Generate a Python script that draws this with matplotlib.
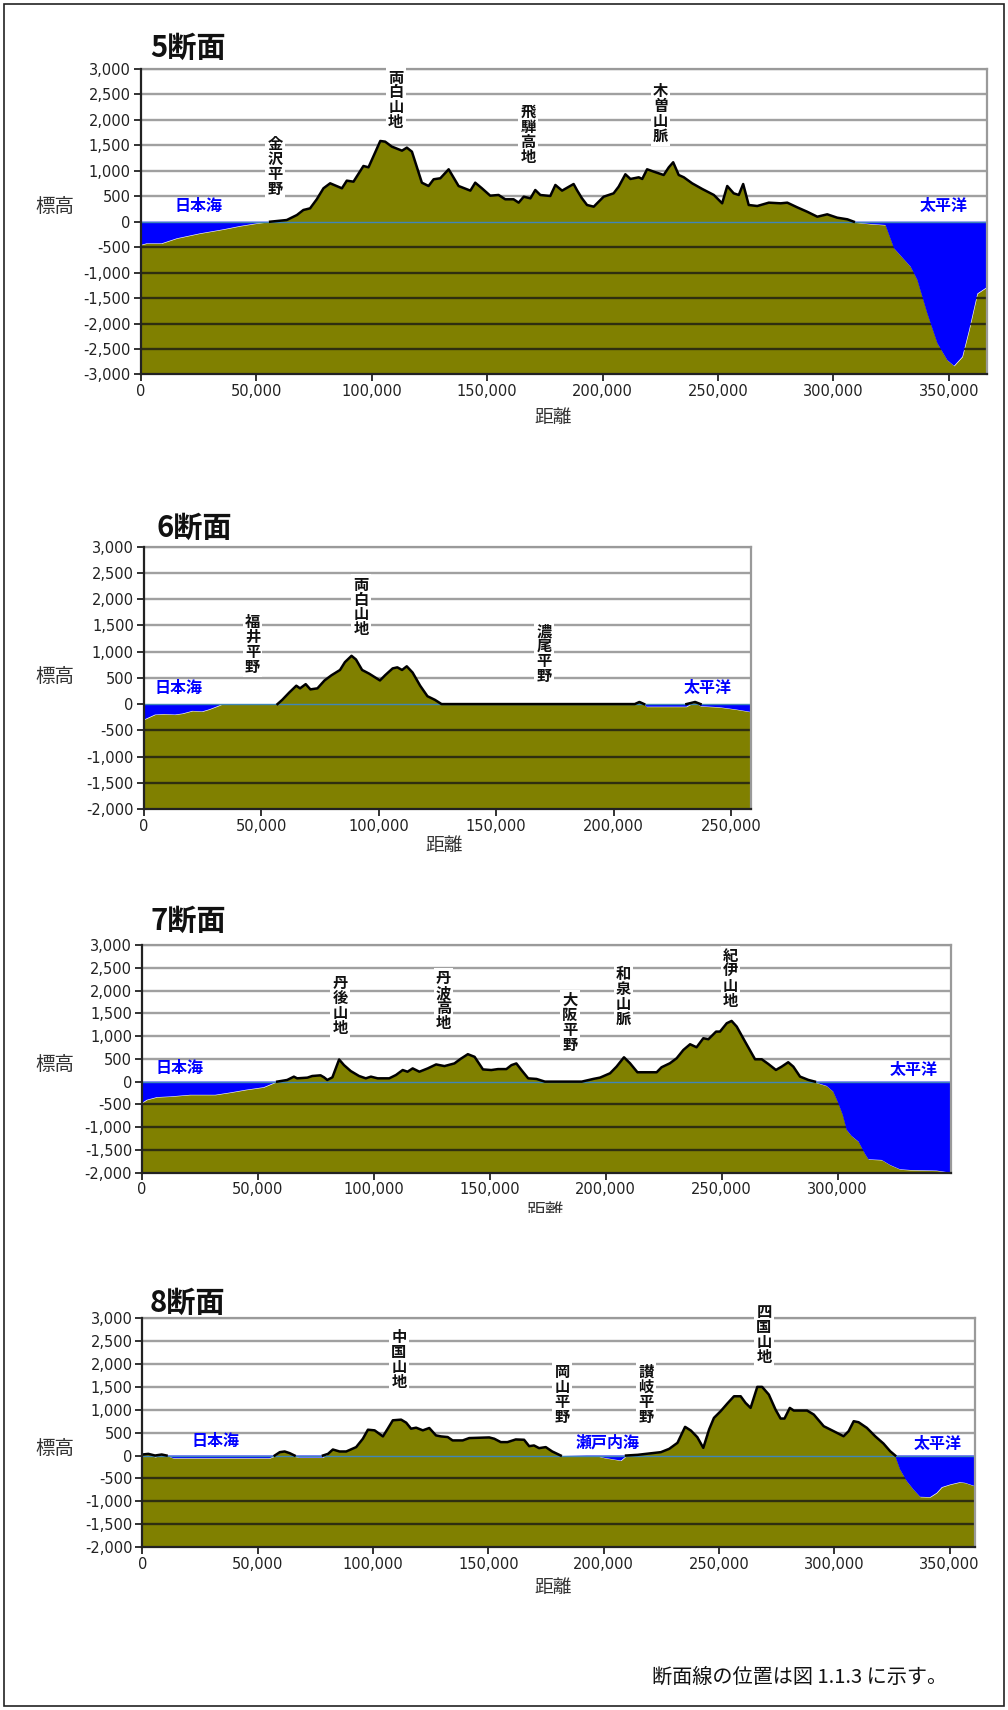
import numpy as np
import matplotlib
matplotlib.use("Agg")
import matplotlib.pyplot as plt
from matplotlib.ticker import FuncFormatter, MultipleLocator
from matplotlib.patches import Rectangle

plt.rcParams['font.family'] = ['Noto Sans CJK JP', 'DejaVu Sans']

# ---- section 5 ----
p5_dist = [0, 2700, 9200, 15700, 25800, 35900, 43100, 50300, 56100, 63300,
           67700, 70500, 73400, 76300, 79200, 82100, 87200, 89300, 92200, 96500,
           98700, 103800, 105900, 108800, 113200, 115300, 117500, 121800, 124700, 126900,
           129800, 133400, 137700, 142800, 144900, 147800, 151400, 155000, 157900, 161500,
           163700, 165900, 168800, 170900, 173100, 177400, 179600, 182500, 187500, 189000,
           191100, 193300, 196200, 200500, 204800, 207000, 209900, 212100, 215700, 217200,
           219300, 222200, 226500, 228700, 230600, 233000, 235200, 238800, 243200, 248200,
           251800, 254000, 256800, 259000, 260900, 263300, 267000, 272000, 277100, 280000,
           284300, 288600, 293000, 297300, 301600, 306000, 308800, 316000, 322500, 326200,
           333400, 336300, 340600, 345000, 349300, 352200, 355800, 358700, 362300, 366600]
p5_elev = [-458, -425, -425, -327, -229, -150, -85, -33, 0, 33,
           131, 230, 262, 440, 656, 754, 656, 806, 786, 1094,
           1068, 1585, 1572, 1474, 1395, 1454, 1375, 766, 701, 833,
           853, 1029, 701, 610, 766, 656, 511, 525, 440, 440,
           374, 491, 459, 622, 524, 505, 721, 610, 740, 616,
           460, 328, 295, 491, 557, 688, 931, 839, 872, 839,
           1029, 983, 917, 1068, 1167, 917, 872, 754, 642, 525,
           361, 701, 557, 525, 740, 328, 308, 374, 361, 374,
           282, 196, 98, 145, 79, 47, -12, -45, -65, -523,
           -885, -1145, -1800, -2390, -2720, -2830, -2650, -2130, -1410, -1280]
p5_places = ['金沢平野', '両白山地', '飛騨高地', '木曽山脈']
p5_place_x = [58300, 110500, 167800, 225100]
p5_place_y = [1080, 2390, 1720, 2130]
p5_seas = ['日本海', '太平洋']
p5_sea_x = [25300, 347800]
p5_sea_y = [309, 309]

# ---- section 6 ----
p6_dist = [0, 4900, 9000, 13400, 16600, 20800, 25000, 28000, 31500, 33600,
           57000, 59000, 62000, 65000, 66600, 69000, 71000, 74000, 77000, 80000,
           83600, 85700, 88500, 90400, 93000, 96000, 100600, 102800, 106000, 108000,
           110000, 112000, 114500, 117700, 120800, 124000, 126800,
           209000, 211000, 213000, 214000, 231000, 234700, 237000, 245000, 251700, 258500]
p6_elev = [-300, -200, -190, -200, -180, -130, -140, -100, -40, 0,
           0, 80, 220, 350, 300, 380, 280, 300, 450, 550,
           650, 800, 920, 850, 650, 580, 450, 550, 680, 700,
           650, 720, 600, 350, 150, 80, 0,
           0, 40, 0, -50, -50, 40, -40, -60, -100, -150]
p6_places = ['福井平野', '両白山地', '濃尾平野']
p6_place_x = [46400, 92550, 170400]
p6_place_y = [1140, 1850, 960]
p6_seas = ['日本海', '太平洋']
p6_sea_x = [14900, 240000]
p6_sea_y = [312, 312]

# ---- section 7 ----
p7_dist = [0, 2200, 6500, 12300, 20900, 31700, 38200, 44700, 52600, 58400,
           62700, 65600, 67000, 71400, 73500, 77100, 78600, 80000, 82200, 85100,
           87200, 90100, 93700, 96600, 98800, 101700, 106700, 109600, 112500, 114600,
           116800, 119700, 123300, 126900, 130500, 134800, 137700, 140600, 143500, 147100,
           150700, 153600, 157200, 159400, 161500, 163700, 166600, 170200, 173800, 189700,
           194700, 197600, 201900, 204700, 207900, 210500, 213700, 222000, 224100, 227700,
           230600, 233500, 236400, 239200, 242100, 244300, 247600, 249300, 252200, 254300,
           256500, 260100, 264400, 267300, 270100, 273400, 275900, 278700, 280900, 283800,
           287400, 290200, 295300, 298100, 300300, 302200, 303900, 306000, 309000, 311800,
           313300, 319000, 322600, 326900, 331200, 342700, 348900]
p7_elev = [-471, -399, -341, -326, -290, -290, -239, -181, -123, 0,
           36, 109, 72, 87, 123, 138, 94, 36, 94, 486,
           362, 232, 123, 72, 109, 72, 72, 145, 254, 217,
           290, 217, 290, 377, 341, 399, 507, 602, 544, 268,
           254, 275, 275, 362, 399, 254, 72, 58, 0, 0,
           59, 88, 183, 329, 534, 403, 205, 205, 315, 403,
           512, 695, 820, 754, 952, 930, 1098, 1098, 1281, 1332,
           1208, 878, 490, 490, 388, 256, 329, 425, 329, 110,
           37, -15, -95, -220, -476, -732, -1061, -1193, -1318, -1588,
           -1706, -1720, -1830, -1925, -1940, -1954, -2000]
p7_places = ['丹後山地', '丹波高地', '大阪平野', '和泉山脈', '紀伊山地']
p7_place_x = [85500, 130000, 184600, 207600, 253900]
p7_place_y = [1670, 1775, 1300, 1860, 2265]
p7_seas = ['日本海', '太平洋']
p7_sea_x = [16100, 332600]
p7_sea_y = [290, 256]

# ---- section 8 ----
p8_dist = [0, 2600, 5500, 8400, 10500, 13400, 23500, 37900, 55200, 57400,
           59600, 61700, 63900, 66000, 68200, 78300, 80500, 82600, 85500, 88400,
           92700, 95600, 97800, 100700, 104300, 106400, 108600, 112200, 114400, 116500,
           118700, 121600, 124400, 127300, 129500, 132400, 134500, 138900, 141700, 150400,
           152600, 155400, 158300, 161900, 165500, 167700, 169800, 172000, 174900, 177700,
           181400, 197400, 200300, 204600, 207500, 209700, 214700, 219700, 224800, 228400,
           232000, 235300, 237800, 240600, 243200, 245700, 247800, 250700, 253600, 256500,
           259400, 261500, 263700, 266600, 268700, 271600, 274500, 276700, 278400, 280700,
           282400, 288200, 291100, 295400, 299700, 304000, 306200, 308400, 310500, 314100,
           317700, 321300, 324200, 326400, 328500, 331400, 334300, 337200, 341500, 344400,
           346600, 350200, 354500, 356700, 361000]
p8_elev = [22, 36, -36, 22, 0, -58, -58, -58, -58, -15,
           73, 88, 51, -22, -44, -44, 36, 131, 88, 88,
           183, 365, 562, 548, 416, 584, 767, 781, 715, 584,
           606, 548, 599, 438, 416, 402, 329, 329, 380, 394,
           365, 292, 292, 350, 343, 204, 219, 161, 183, 88,
           0, -15, -51, -87, -109, -15, 15, 44, 73, 145,
           276, 624, 544, 399, 167, 566, 819, 964, 1131, 1290,
           1290, 1146, 1037, 1494, 1494, 1327, 1000, 805, 805, 1037,
           979, 979, 892, 638, 530, 420, 530, 747, 725, 602,
           420, 261, 94, -15, -305, -558, -740, -899, -906, -812,
           -689, -631, -580, -595, -667]
p8_places = ['中国山地', '岡山平野', '讃岐平野', '四国山地']
p8_place_x = [111200, 182000, 218300, 269500]
p8_place_y = [2100, 1330, 1330, 2630]
p8_seas = ['日本海', '瀬戸内海', '太平洋']
p8_sea_x = [31900, 201700, 345000]
p8_sea_y = [307, 290, 261]

section_titles = ['5断面', '6断面', '7断面', '8断面']
x_limits = [366600, 258500, 348900, 361000]
y_bottoms = [-3000, -2000, -2000, -2000]
y_top = 3000

LAND = '#808000'
SEA = '#0000ff'
W, H = 1008, 1710


def FigX(px):
    return px / W


def FigY(py):
    return 1 - py / H


def DrawSection(ax, dist, elev, xmax, ymin, places, px, py, seas, sx, sy):
    """
    Draws one cross section: land in olive, sea in blue, outline of the
    ground above sea level in black, and the place names.
    """
    dist = np.asarray(dist, float)
    elev = np.asarray(elev, float)

    ax.set_xlim(0, xmax)
    ax.set_ylim(ymin, y_top)

    # gridlines: grey above sea level, dark (over the land) below
    for level in np.arange(ymin + 500, y_top + 1, 500):
        if level > 0:
            ax.axhline(level, color='#a0a0a0', lw=1.7, zorder=0.5)
        elif level < 0:
            ax.axhline(level, color='#2e2e10', lw=1.7, zorder=1.5)

    ax.fill_between(dist, ymin, elev, color=LAND, lw=0, zorder=1)
    ax.fill_between(dist, elev, 0, where=elev < 0, interpolate=True,
                    color=SEA, lw=0, zorder=2)
    ax.axhline(0, color='#3f86b8', lw=1.0, zorder=2.5)

    above = np.maximum(elev, 0)
    pos = above > 0
    keep = pos | np.roll(pos, 1) | np.roll(pos, -1)
    ax.plot(dist, np.where(keep, above, np.nan), color='black', lw=1.8,
            zorder=3, solid_joinstyle='round')

    for name, x, y in zip(places, px, py):
        ax.text(x, y, '\n'.join(name), ha='center', va='center',
                fontsize=11, fontweight='bold', color='#111111',
                linespacing=0.92, zorder=5, clip_on=False,
                bbox=dict(facecolor='white', edgecolor='none', pad=1.5))
    for name, x, y in zip(seas, sx, sy):
        ax.text(x, y, name, ha='center', va='center', fontsize=11.5,
                fontweight='bold', color=SEA, zorder=5)

    ax.xaxis.set_major_locator(MultipleLocator(50000))
    ax.yaxis.set_major_locator(MultipleLocator(500))
    fmt = FuncFormatter(lambda v, _: f"{v:,.0f}")
    ax.xaxis.set_major_formatter(fmt)
    ax.yaxis.set_major_formatter(fmt)
    ax.tick_params(axis='both', direction='out', length=5, width=1.3,
                   color='#222222', labelsize=10.5, labelcolor='#222222', pad=2)
    for lab in ax.get_xticklabels() + ax.get_yticklabels():
        lab.set_family('DejaVu Sans')

    for side in ['left', 'bottom']:
        ax.spines[side].set_color('#222222')
        ax.spines[side].set_linewidth(1.6)
        ax.spines[side].set_zorder(4)
    for side in ['top', 'right']:
        ax.spines[side].set_color('#9a9a9a')
        ax.spines[side].set_linewidth(1.6)


fig = plt.figure(figsize=(W / 100, H / 100), dpi=100)

axes_rects = [
    [0.1394, 0.7810, 0.8401, 0.1787],
    [0.1424, 0.5269, 0.6027, 0.1534],
    [0.1406, 0.3142, 0.8029, 0.1332],
    [0.1412, 0.0951, 0.8261, 0.1343],
]
sections = [
    (p5_dist, p5_elev, p5_places, p5_place_x, p5_place_y, p5_seas, p5_sea_x, p5_sea_y),
    (p6_dist, p6_elev, p6_places, p6_place_x, p6_place_y, p6_seas, p6_sea_x, p6_sea_y),
    (p7_dist, p7_elev, p7_places, p7_place_x, p7_place_y, p7_seas, p7_sea_x, p7_sea_y),
    (p8_dist, p8_elev, p8_places, p8_place_x, p8_place_y, p8_seas, p8_sea_x, p8_sea_y),
]
title_pos = [(150, 48), (156, 528), (150, 921), (150, 1303)]
ylabel_pos = [207, 676, 1064, 1448]
xlabel_pos = [(553, 418), (444, 845), (545, 1212), (553, 1587)]

for i, rect in enumerate(axes_rects):
    ax = fig.add_axes(rect)
    d, e, pl, plx, ply, se, sex, sey = sections[i]
    DrawSection(ax, d, e, x_limits[i], y_bottoms[i], pl, plx, ply, se, sex, sey)

    tx, ty = title_pos[i]
    fig.text(FigX(tx), FigY(ty), section_titles[i], ha='left', va='center',
             fontsize=21, fontweight='bold', color='#111111')
    fig.text(FigX(55), FigY(ylabel_pos[i]), '標高', ha='center', va='center',
             fontsize=14, color='#333333')
    lx, ly = xlabel_pos[i]
    fig.text(FigX(lx), FigY(ly), '距離', ha='center', va='center',
             fontsize=13.5, color='#333333')

# the 7th section's axis title is half hidden in the original
fig.patches.append(Rectangle((FigX(480), FigY(1240)), 140 / W, 27 / H,
                             transform=fig.transFigure, facecolor='white',
                             edgecolor='none', zorder=10))

fig.text(FigX(947), FigY(1677), '断面線の位置は図 1.1.3 に示す。', ha='right',
         va='center', fontsize=14.5, color='#111111')

# outer frame
fig.patches.append(Rectangle((FigX(4), FigY(1706)), 1000 / W, 1702 / H,
                             transform=fig.transFigure, fill=False,
                             edgecolor='#222222', lw=1.2, zorder=11))

fig.savefig('out.png', dpi=100)
